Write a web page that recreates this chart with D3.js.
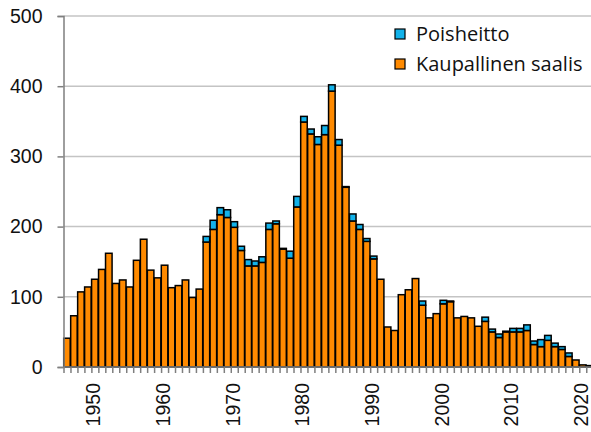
<!DOCTYPE html>
<html>
<head>
<meta charset="utf-8">
<script src="https://cdn.jsdelivr.net/npm/d3@7"></script>
<style>
  body { margin: 0; background: #fff; }
  svg { display: block; font-family: "Open Sans", "Noto Sans", sans-serif; }
</style>
</head>
<body>
<div id="chart"></div>
<script>
// vuodet 1946-2021
var years = d3.range(1946, 2022);

var kaupallinen = [41, 73, 107, 114, 125, 139, 162, 119, 124, 114,
                   152, 182, 138, 127, 145, 113, 116, 124, 99, 111,
                   178, 196, 217, 213, 199, 166, 144, 144, 149, 196,
                   204, 168, 155, 228, 349, 332, 317, 331, 393, 316,
                   256, 208, 196, 179, 154, 125, 57, 52, 103, 110,
                   126, 88, 70, 76, 90, 93, 70, 72, 70, 58,
                   65, 50, 42, 50, 50, 50, 52, 32, 29, 38,
                   29, 25, 15, 10, 3, 2];

var poisheitto = [0, 0, 0, 0, 0, 0, 0, 0, 0, 0,
                  0, 0, 0, 0, 0, 0, 0, 0, 0, 0,
                  8, 13, 10, 11, 8, 6, 9, 7, 8, 9,
                  4, 1, 10, 15, 8, 7, 11, 13, 9, 8,
                  1, 10, 7, 4, 4, 0, 0, 0, 0, 0,
                  0, 6, 0, 0, 5, 1, 0, 0, 0, 0,
                  6, 4, 5, 1, 5, 5, 8, 5, 10, 7,
                  5, 4, 5, 0, 0, 0];

var yTicks = [0, 100, 200, 300, 400, 500];
var xLabels = [1950, 1960, 1970, 1980, 1990, 2000, 2010, 2020];

var seriesNames = ["Poisheitto", "Kaupallinen saalis"];
var colors = { "Kaupallinen saalis": "#ff8a00", "Poisheitto": "#12b2ea" };

var width = 591, height = 432;
var margin = { top: 16, left: 63.5, bottom: 65 };
var plotBottom = height - margin.bottom;
var step = 6.97;
var plotRight = margin.left + years.length * step;
var fontSize = 19.5;

var svg = d3.select("#chart").append("svg")
  .attr("width", width)
  .attr("height", height);

var x = d3.scaleBand().domain(years).range([margin.left, plotRight]).paddingInner(0.06).paddingOuter(0.03);
var xEdge = d3.scaleLinear().domain([1946, 2022]).range([margin.left, plotRight]);
var y = d3.scaleLinear().domain([0, 500]).range([plotBottom, margin.top]);

// ruudukko
svg.append("g")
  .selectAll("line")
  .data(yTicks.slice(1))
  .join("line")
  .attr("x1", margin.left).attr("x2", width)
  .attr("y1", d => y(d)).attr("y2", d => y(d))
  .attr("stroke", "#c4c4c4")
  .attr("stroke-width", 1.5);

// pinotut palkit
var rows = years.map((yr, i) => ({ year: yr, "Kaupallinen saalis": kaupallinen[i], "Poisheitto": poisheitto[i] }));
var stack = d3.stack().keys(["Kaupallinen saalis", "Poisheitto"]);
var layers = stack(rows);

svg.append("g")
  .selectAll("g")
  .data(layers)
  .join("g")
  .attr("fill", d => colors[d.key])
  .selectAll("rect")
  .data(d => d.filter(s => s[1] > s[0]))
  .join("rect")
  .attr("x", d => x(d.data.year))
  .attr("width", x.bandwidth())
  .attr("y", d => y(d[1]))
  .attr("height", d => y(d[0]) - y(d[1]))
  .attr("stroke", "#000")
  .attr("stroke-width", 1.5);

// y-akseli
var yAxis = d3.axisLeft(y).tickValues(yTicks).tickSize(6).tickPadding(15);
var yAxisG = svg.append("g")
  .attr("transform", "translate(" + margin.left + ",0)")
  .call(yAxis);
yAxisG.selectAll("text").attr("font-size", fontSize).attr("fill", "#111").style("font-family", "inherit");

// x-akseli: väliviivat
var xAxis = d3.axisBottom(xEdge).tickValues(d3.range(1946, 2023)).tickSize(6).tickFormat("");
var xAxisG = svg.append("g")
  .attr("transform", "translate(0," + plotBottom + ")")
  .call(xAxis);
xAxisG.select(".domain").attr("d", "M" + margin.left + ",0H" + width);

// x-akselin vuosiluvut
var xLab = d3.axisBottom(x).tickValues(xLabels).tickSize(0);
var xLabG = svg.append("g")
  .attr("transform", "translate(0," + plotBottom + ")")
  .call(xLab);
xLabG.select(".domain").remove();
xLabG.selectAll("text")
  .attr("font-size", fontSize)
  .attr("fill", "#111")
  .style("font-family", "inherit")
  .attr("transform", "rotate(-90)")
  .attr("text-anchor", "end")
  .attr("x", -16)
  .attr("y", -1)
  .attr("dy", "0.32em");

svg.selectAll(".domain").attr("stroke", "#7f7f7f").attr("stroke-width", 1.5);
svg.selectAll(".tick line").attr("stroke", "#7f7f7f").attr("stroke-width", 1.5);

// selite
var legend = svg.append("g").attr("transform", "translate(395,34)");
var item = legend.selectAll("g")
  .data(seriesNames)
  .join("g")
  .attr("transform", (d, i) => "translate(0," + i * 30 + ")");
item.append("rect")
  .attr("x", 0).attr("y", -5)
  .attr("width", 10).attr("height", 10)
  .attr("fill", d => colors[d])
  .attr("stroke", "#000")
  .attr("stroke-width", 1.2);
item.append("text")
  .attr("x", 21)
  .attr("dy", "0.35em")
  .attr("font-size", 20)
  .attr("fill", "#111")
  .text(d => d);
</script>
</body>
</html>
